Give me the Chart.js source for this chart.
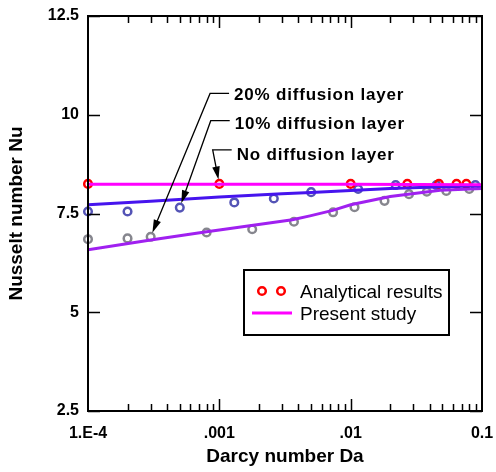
<!DOCTYPE html>
<html lang="en">
<head>
  <meta charset="UTF-8">
  <title>Nusselt number vs Darcy number</title>
  <style>
    html, body {
      margin: 0;
      padding: 0;
      background: #fff;
    }
    canvas {
      display: block;
    }
  </style>
  <script src="https://cdn.jsdelivr.net/npm/chart.js"></script>
</head>
<body>
  <canvas id="grafico" width="496" height="472"></canvas>

  <script>
    // analytical results (circles)
    const daNone = [1e-4, 1e-3, 1e-2, 0.027, 0.047, 0.064, 0.076];
    const nuNone = [8.25, 8.25, 8.25, 8.25, 8.25, 8.25, 8.25];

    const da10 = [1e-4, 2e-4, 5e-4, 1.3e-3, 2.6e-3, 5e-3, 1.14e-2, 2.2e-2, 4.5e-2, 8.9e-2];
    const nu10 = [7.55, 7.55, 7.65, 7.78, 7.88, 8.04, 8.12, 8.22, 8.22, 8.22];

    const da20 = [1e-4, 2e-4, 3e-4, 8e-4, 1.78e-3, 3.7e-3, 7.35e-3, 1.07e-2, 1.81e-2, 2.78e-2, 3.8e-2, 5.35e-2, 8e-2];
    const nu20 = [6.85, 6.87, 6.91, 7.02, 7.10, 7.29, 7.53, 7.66, 7.82, 7.99, 8.05, 8.07, 8.12];

    // present study (lines)
    const daLineNone = [1e-4, 1e-3, 1e-2, 1e-1];
    const nuLineNone = [8.24, 8.24, 8.24, 8.23];

    const daLine10 = [1e-4, 3e-4, 1e-3, 3e-3, 5e-3, 1e-2, 2e-2, 5e-2, 1e-1];
    const nuLine10 = [7.72, 7.81, 7.92, 8.00, 8.03, 8.08, 8.13, 8.18, 8.20];

    const daLine20 = [1e-4, 3e-4, 8e-4, 1e-3, 3.6e-3, 4.9e-3, 7.3e-3, 1e-2, 2e-2, 4.8e-2, 1e-1];
    const nuLine20 = [6.58, 6.83, 7.04, 7.08, 7.34, 7.44, 7.58, 7.72, 7.93, 8.09, 8.13];

    const xTickValues = [1e-4, 1e-3, 1e-2, 1e-1];
    const xTickLabels = ['1.E-4', '.001', '.01', '0.1'];
    const yTickValues = [2.5, 5, 7.5, 10, 12.5];
    const yTickLabels = ['2.5', '5', '7.5', '10', '12.5'];

    // callouts: elbow of the leader (Da, Nu) and the circle the arrow points at
    const notes = [
      { text: '20% diffusion layer', at: [8.5e-4, 10.54], tip: [da20[2], nu20[2]], dy: 7 },
      { text: '10% diffusion layer', at: [8.6e-4, 9.85], tip: [da10[2], nu10[2]], dy: 8 },
      { text: 'No diffusion layer', at: [8.9e-4, 9.11], tip: [daNone[1], nuNone[1]], dy: 10 }
    ];

    const FONT = "'Liberation Sans', Arial, Helvetica, sans-serif";

    function pts(xs, ys) {
      return xs.map((v, i) => ({ x: v, y: ys[i] }));
    }

    function circle(ctx, cx, cy, r, color) {
      ctx.beginPath();
      ctx.arc(cx, cy, r, 0, Math.PI * 2);
      ctx.strokeStyle = color;
      ctx.lineWidth = 2.5;
      ctx.stroke();
    }

    // box, inward ticks, callouts and legend
    const moldura = {
      id: 'moldura',
      afterDatasetsDraw(chart) {
        const { ctx, chartArea: a, scales: { x, y } } = chart;
        ctx.save();

        ctx.strokeStyle = '#000';
        ctx.lineWidth = 1.5;
        ctx.beginPath();
        for (let e = -4; e < -1; e++) {
          for (let d = 1; d <= 9; d++) {
            const v = d * Math.pow(10, e);
            if (v <= 1.0001e-4) continue;
            const px = Math.round(x.getPixelForValue(v)) + 0.5;
            const len = d === 1 ? 12 : 7;
            ctx.moveTo(px, a.bottom);
            ctx.lineTo(px, a.bottom - len);
            ctx.moveTo(px, a.top);
            ctx.lineTo(px, a.top + len);
          }
        }
        yTickValues.forEach(v => {
          const py = Math.round(y.getPixelForValue(v)) + 0.5;
          ctx.moveTo(a.left, py);
          ctx.lineTo(a.left + 12, py);
          ctx.moveTo(a.right, py);
          ctx.lineTo(a.right - 12, py);
        });
        ctx.stroke();

        ctx.lineWidth = 2;
        ctx.strokeRect(a.left, a.top, a.right - a.left, a.bottom - a.top);

        // callouts
        ctx.fillStyle = '#000';
        ctx.font = 'bold 17px ' + FONT;
        ctx.letterSpacing = '0.8px';
        ctx.textAlign = 'left';
        ctx.textBaseline = 'alphabetic';
        notes.forEach(n => {
          const ex = x.getPixelForValue(n.at[0]);
          const ey = y.getPixelForValue(n.at[1]);
          const tx = x.getPixelForValue(n.tip[0]);
          const ty = y.getPixelForValue(n.tip[1]);
          const ang = Math.atan2(ty - ey, tx - ex);
          const c = Math.cos(ang), s = Math.sin(ang);
          const endX = tx - c * 4.5, endY = ty - s * 4.5;

          ctx.lineWidth = 1.3;
          ctx.beginPath();
          ctx.moveTo(ex + 19, ey);
          ctx.lineTo(ex, ey);
          ctx.lineTo(endX - c * 8, endY - s * 8);
          ctx.stroke();

          ctx.beginPath();
          ctx.moveTo(endX, endY);
          ctx.lineTo(endX - c * 13 + s * 3.8, endY - s * 13 - c * 3.8);
          ctx.lineTo(endX - c * 13 - s * 3.8, endY - s * 13 + c * 3.8);
          ctx.closePath();
          ctx.fill();

          ctx.fillText(n.text, ex + 24, ey + n.dy);
        });
        ctx.letterSpacing = '0px';

        // legend
        const lx = a.left + 156, ly = a.top + 254;
        ctx.fillStyle = '#fff';
        ctx.fillRect(lx, ly, 205, 65);
        ctx.strokeStyle = '#000';
        ctx.lineWidth = 2;
        ctx.strokeRect(lx, ly, 205, 65);

        circle(ctx, lx + 18, ly + 21, 3.8, '#ff0000');
        circle(ctx, lx + 37, ly + 21, 3.8, '#ff0000');
        ctx.beginPath();
        ctx.moveTo(lx + 8, ly + 43);
        ctx.lineTo(lx + 48, ly + 43);
        ctx.strokeStyle = '#ff00ff';
        ctx.lineWidth = 3;
        ctx.stroke();

        ctx.fillStyle = '#000';
        ctx.font = '19px ' + FONT;
        ctx.fillText('Analytical results', lx + 56, ly + 28);
        ctx.fillText('Present study', lx + 56, ly + 50);

        ctx.restore();
      }
    };

    function pontos(label, xs, ys, cor) {
      return {
        label: label,
        data: pts(xs, ys),
        showLine: false,
        pointStyle: 'circle',
        pointRadius: 3.8,
        pointBorderWidth: 2.5,
        pointBorderColor: cor,
        pointBackgroundColor: 'rgba(0,0,0,0)',
        clip: false,
        order: 1
      };
    }

    function linha(label, xs, ys, cor) {
      return {
        label: label,
        data: pts(xs, ys),
        showLine: true,
        borderColor: cor,
        borderWidth: 3,
        pointRadius: 0,
        tension: 0,
        order: 0
      };
    }

    new Chart(document.getElementById('grafico'), {
      type: 'scatter',
      data: {
        datasets: [
          linha('No diffusion layer - present', daLineNone, nuLineNone, '#ff00ff'),
          linha('10% diffusion layer - present', daLine10, nuLine10, '#4614ee'),
          linha('20% diffusion layer - present', daLine20, nuLine20, '#a020f0'),
          pontos('No diffusion layer - analytical', daNone, nuNone, '#ff0000'),
          pontos('10% diffusion layer - analytical', da10, nu10, '#5454b6'),
          pontos('20% diffusion layer - analytical', da20, nu20, '#86868e')
        ]
      },
      options: {
        responsive: false,
        animation: false,
        layout: { padding: { top: 16, right: 14, left: 0, bottom: 0 } },
        plugins: {
          legend: { display: false },
          tooltip: { enabled: false }
        },
        scales: {
          x: {
            type: 'logarithmic',
            position: 'bottom',
            min: 1e-4,
            max: 0.1,
            grid: { display: false, drawTicks: false },
            border: { display: false },
            afterBuildTicks: s => { s.ticks = xTickValues.map(v => ({ value: v })); },
            afterFit: s => {
              s.height = 61;
              s.paddingLeft = 0;
              s.paddingRight = 0;
            },
            ticks: {
              callback: (v, i) => xTickLabels[i],
              autoSkip: false,
              maxRotation: 0,
              padding: 13,
              color: '#000',
              font: { family: FONT, size: 16, weight: 'bold' }
            },
            title: {
              display: true,
              text: 'Darcy number Da',
              color: '#000',
              padding: { top: 0, bottom: 4 },
              font: { family: FONT, size: 19, weight: 'bold' }
            }
          },
          y: {
            type: 'linear',
            min: 2.5,
            max: 12.5,
            grid: { display: false, drawTicks: false },
            border: { display: false },
            afterBuildTicks: s => { s.ticks = yTickValues.map(v => ({ value: v })); },
            afterFit: s => {
              s.width = 88;
              s.paddingTop = 0;
              s.paddingBottom = 0;
            },
            ticks: {
              callback: (v, i) => yTickLabels[i],
              padding: 9,
              color: '#000',
              font: { family: FONT, size: 16, weight: 'bold' }
            },
            title: {
              display: true,
              text: 'Nusselt number Nu',
              color: '#000',
              padding: { top: 5, bottom: 0 },
              font: { family: FONT, size: 19, weight: 'bold' }
            }
          }
        }
      },
      plugins: [moldura]
    });
  </script>
</body>
</html>
